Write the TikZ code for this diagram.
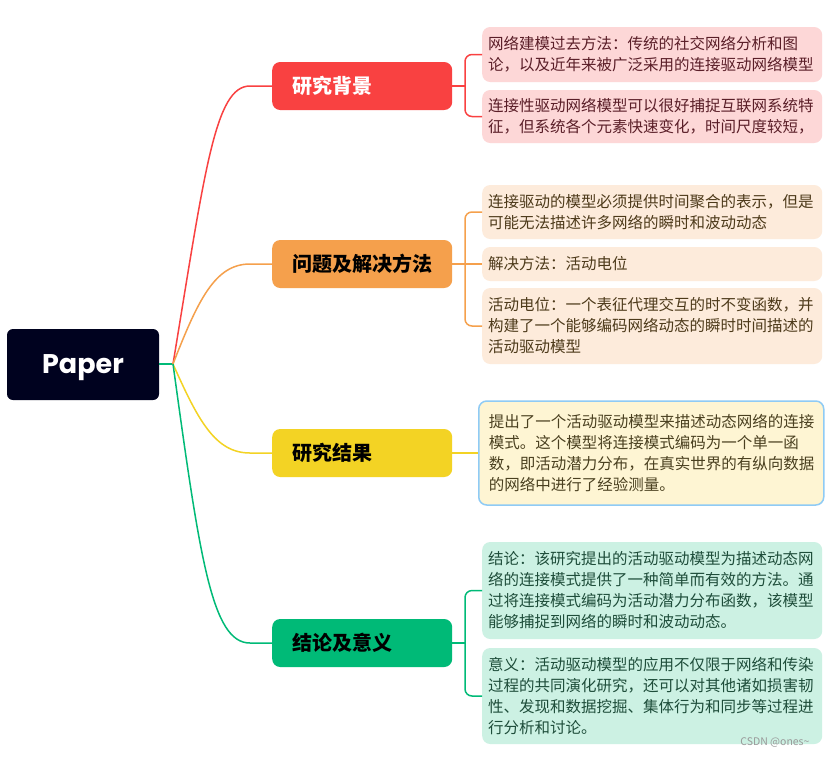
\documentclass[tikz,border=0pt]{standalone}
\usepackage{fontspec}
\newfontfamily\cjk{Noto Sans CJK SC}
\newfontfamily\pop{Poppins}
\definecolor{cRed}{HTML}{F94141}
\definecolor{cOrg}{HTML}{F5A04C}
\definecolor{cYel}{HTML}{F3D324}
\definecolor{cGrn}{HTML}{00BA77}
\definecolor{cNavy}{HTML}{00021F}
\definecolor{fRed}{HTML}{FDD7D7}
\definecolor{fOrg}{HTML}{FDEBDB}
\definecolor{fYel}{HTML}{FEF5D3}
\definecolor{fGrn}{HTML}{CCF1E3}
\definecolor{tRed}{HTML}{5A1E28}
\definecolor{tOrg}{HTML}{4D3A1A}
\definecolor{tYel}{HTML}{4A4020}
\definecolor{tGrn}{HTML}{1E4D3A}
\definecolor{cSel}{HTML}{8FCBF5}
\begin{document}
\begin{tikzpicture}[x=1pt,y=-1pt,
  rootbox/.style={rectangle,rounded corners=6pt,fill=cNavy,text=white,text depth=0pt,
    minimum width=152pt,minimum height=71pt,font=\pop\bfseries\fontsize{27}{30}\selectfont},
  topic/.style={rectangle,rounded corners=8pt,anchor=west,minimum width=180pt,
    minimum height=48pt,text width=140pt,inner xsep=20pt,align=left,
    font=\cjk\bfseries\fontsize{20}{24}\selectfont},
  sub/.style={rectangle,rounded corners=8pt,anchor=west,text width=328pt,
    inner xsep=6pt,inner ysep=0pt,align=left,
    font=\cjk\fontsize{15.5}{21}\selectfont},
  link/.style={line width=1.5pt},
]
\useasboundingbox (0,0) rectangle (827,756);
\fill[white] (0,0) rectangle (827,756);

% root
\node[rootbox] (root) at (83,364.5) {Paper};
\coordinate (J) at (173,364);

% topics
\node[topic,fill=cRed,text=white] (t1) at (272,86) {研究背景};
\node[topic,fill=cOrg,text=black] (t2) at (272,264) {问题及解决方法};
\node[topic,fill=cYel,text=black] (t3) at (272,453) {研究结果};
\node[topic,fill=cGrn,text=black] (t4) at (272,643) {结论及意义};

% connectors root -> topics
\draw[link,cGrn] (root.east |- J) -- (J);
\draw[link,cRed] (J) .. controls (205,170) and (215,86) .. (250,86) -- (t1.west);
\draw[link,cOrg] (J) .. controls (198,300) and (215,264) .. (250,264) -- (t2.west);
\draw[link,cYel] (J) .. controls (198,420) and (215,453) .. (250,453) -- (t3.west);
\draw[link,cGrn] (J) .. controls (200,560) and (212,643) .. (250,643) -- (t4.west);

% sub boxes
\node[sub,fill=fRed,text=tRed,minimum height=55pt] (s1a) at (482,54.5)
  {网络建模过去方法：传统的社交网络分析和图\\论，以及近年来被广泛采用的连接驱动网络模型};
\node[sub,fill=fRed,text=tRed,minimum height=53pt] (s1b) at (482,116.5)
  {连接性驱动网络模型可以很好捕捉互联网系统特\\征，但系统各个元素快速变化，时间尺度较短，};

\node[sub,fill=fOrg,text=tOrg,minimum height=54pt] (s2a) at (482,212)
  {连接驱动的模型必须提供时间聚合的表示，但是\\可能无法描述许多网络的瞬时和波动动态};
\node[sub,fill=fOrg,text=tOrg,minimum height=34pt] (s2b) at (482,264)
  {解决方法：活动电位};
\node[sub,fill=fOrg,text=tOrg,minimum height=76pt] (s2c) at (482,326)
  {活动电位：一个表征代理交互的时不变函数，并\\构建了一个能够编码网络动态的瞬时时间描述的\\活动驱动模型};

\node[sub,fill=fYel,text=tYel,draw=cSel,line width=1.5pt,text width=325pt,
  inner xsep=10pt,minimum height=104pt] (s3) at (478,453)
  {提出了一个活动驱动模型来描述动态网络的连接\\模式。这个模型将连接模式编码为一个单一函\\数，即活动潜力分布，在真实世界的有纵向数据\\的网络中进行了经验测量。};

\node[sub,fill=fGrn,text=tGrn,minimum height=97pt] (s4a) at (482,590.5)
  {结论：该研究提出的活动驱动模型为描述动态网\\络的连接模式提供了一种简单而有效的方法。通\\过将连接模式编码为活动潜力分布函数，该模型\\能够捕捉到网络的瞬时和波动动态。};
\node[sub,fill=fGrn,text=tGrn,minimum height=96pt] (s4b) at (482,696)
  {意义：活动驱动模型的应用不仅限于网络和传染\\过程的共同演化研究，还可以对其他诸如损害韧\\性、发现和数据挖掘、集体行为和同步等过程进\\行分析和讨论。};

% brackets
\coordinate (k1) at (465,86);
\coordinate (k2) at (465,264);
\coordinate (k4) at (465,643);
\draw[link,cRed] (t1.east) -- (k1);
\draw[link,cRed,rounded corners=7pt] (s1a.west) -- (s1a.west -| k1) -- (s1b.west -| k1) -- (s1b.west);
\draw[link,cOrg] (t2.east) -- (s2b.west);
\draw[link,cOrg,rounded corners=7pt] (s2a.west) -- (s2a.west -| k2) -- (s2c.west -| k2) -- (s2c.west);
\draw[link,cYel] (t3.east) -- (s3.west);
\draw[link,cGrn] (t4.east) -- (k4);
\draw[link,cGrn,rounded corners=7pt] (s4a.west) -- (s4a.west -| k4) -- (s4b.west -| k4) -- (s4b.west);

% watermark
\node[text=gray!80,font=\cjk\fontsize{10.5}{12}\selectfont,anchor=east] (wm) at (813,742) {CSDN @ones\textasciitilde};
\end{tikzpicture}
\end{document}
